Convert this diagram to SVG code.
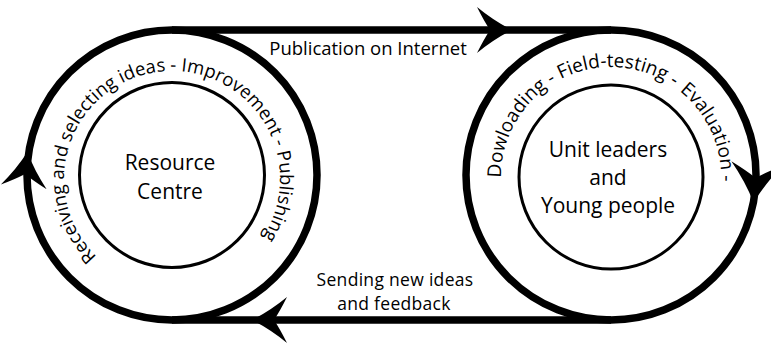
<svg xmlns="http://www.w3.org/2000/svg" xmlns:xlink="http://www.w3.org/1999/xlink" width="771" height="343" viewBox="0 0 771 343">
<style>
.bg{fill:#ffffff}
.track{fill:none;stroke:#000;stroke-width:7.5}
.inner{fill:none;stroke:#000;stroke-width:3}
.arr{fill:#000}
text{font-family:"Open Sans","Noto Sans",sans-serif;fill:#000}
.lbl{font-size:18.5px;text-anchor:middle}
.fb{font-size:17.5px;letter-spacing:0.3px;text-anchor:middle}
.node{font-size:21px;text-anchor:middle}
.arc{font-size:18.5px}
.arcr{font-size:19px}
</style>
<defs>
<path id="arrow" d="M4,0 Q-14,-9 -31,-23 Q-24,-9 -18,0 Q-24,9 -31,23 Q-14,9 4,0 Z"/>
<path id="arcL" d="M172,287 A108,108 0 1 1 172,71 A108,108 0 1 1 172,287"/>
<path id="arcR" d="M611,287 A110,110 0 1 1 611,67 A110,110 0 1 1 611,287"/>
</defs>
<rect class="bg" x="0" y="0" width="771" height="343"/>
<g id="connectors">
<circle class="track" cx="172" cy="175" r="145"/>
<circle class="track" cx="611" cy="175" r="145"/>
<line class="track" x1="172" y1="30" x2="611" y2="30"/>
<line class="track" x1="172" y1="320" x2="611" y2="320"/>
<use class="arr" xlink:href="#arrow" href="#arrow" transform="translate(508,30)"/>
<use class="arr" xlink:href="#arrow" href="#arrow" transform="translate(256,320) rotate(180)"/>
<use class="arr" xlink:href="#arrow" href="#arrow" transform="translate(27,156) rotate(-84)"/>
<use class="arr" xlink:href="#arrow" href="#arrow" transform="translate(754,198) rotate(95) scale(1.12)"/>
</g>
<g id="labels">
<text class="lbl" x="368" y="55">Publication on Internet</text>
<text class="fb"><tspan x="395" y="286">Sending new ideas</tspan><tspan x="394" y="310">and feedback</tspan></text>
<text class="arc"><textPath xlink:href="#arcL" href="#arcL" startOffset="83">Receiving and</textPath></text>
<text class="arc"><textPath xlink:href="#arcL" href="#arcL" startOffset="206.4">selecting</textPath></text>
<text class="arc"><textPath xlink:href="#arcL" href="#arcL" startOffset="287">ideas - Improvement</textPath></text>
<text class="arc"><textPath xlink:href="#arcL" href="#arcL" startOffset="470.2">- Publishing</textPath></text>
<text class="arcr"><textPath xlink:href="#arcR" href="#arcR" startOffset="172">Dowloading</textPath></text>
<text class="arcr"><textPath xlink:href="#arcR" href="#arcR" startOffset="282">- Field-testing -</textPath></text>
<text class="arcr"><textPath xlink:href="#arcR" href="#arcR" startOffset="419">Evaluation -</textPath></text>
</g>
<g id="node-resource-centre">
<circle class="inner" cx="172" cy="175" r="92.5"/>
<text class="node" x="170" y="170">Resource</text>
<text class="node" x="170" y="199">Centre</text>
</g>
<g id="node-unit-leaders">
<circle class="inner" cx="611" cy="177" r="92"/>
<text class="node" x="608" y="157">Unit leaders</text>
<text class="node" x="608" y="185">and</text>
<text class="node" x="608" y="213">Young people</text>
</g>
</svg>
